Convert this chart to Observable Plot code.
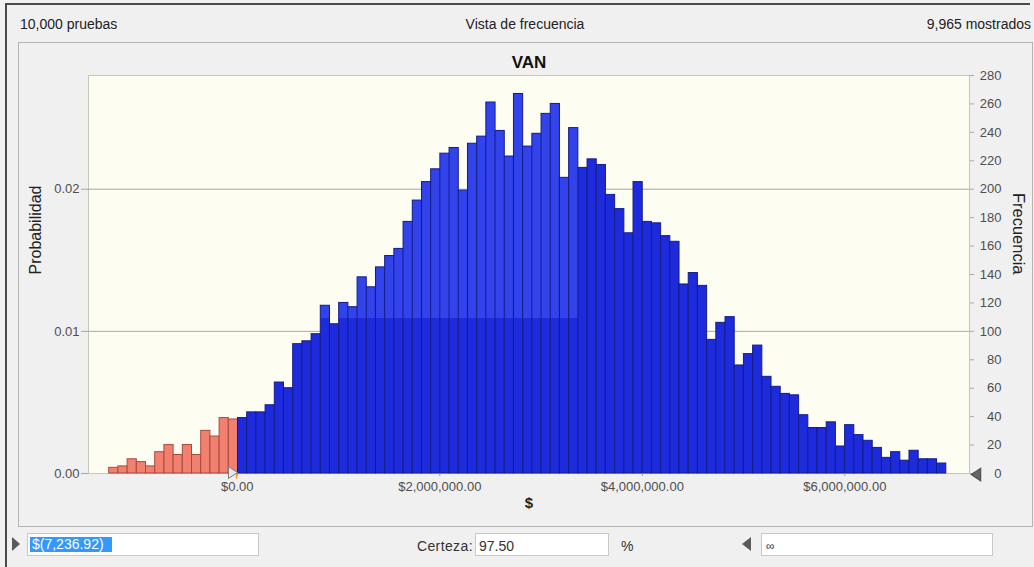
<!DOCTYPE html>
<html><head><meta charset="utf-8">
<script src="https://cdn.jsdelivr.net/npm/d3@7"></script>
<script src="https://cdn.jsdelivr.net/npm/@observablehq/plot@0.6"></script>
<style>
html,body{margin:0;padding:0;}
body{width:1034px;height:567px;background:#f0f0f0;position:relative;overflow:hidden;font-family:"Liberation Sans",Arial,sans-serif;color:#222;}
.abs{position:absolute;}
#frameTop{left:5px;top:3px;width:1025px;height:2px;background:#4a4a4a;}
#frameLeft{left:5px;top:3px;width:2px;height:564px;background:#4a4a4a;}
#panel{left:18px;top:42px;width:1015px;height:485px;border:1px solid #b4b4b4;box-sizing:border-box;}
.hdr{top:16px;font-size:14px;line-height:16px;color:#222;white-space:nowrap;}
#chart{left:0;top:0;}
.box{height:23px;border:1px solid #c8c8c8;background:#fff;box-sizing:border-box;}
.lbl{font-size:14px;line-height:16px;white-space:nowrap;color:#333;}
.triR{width:0;height:0;border-left:8px solid #5a5a5a;border-top:7px solid transparent;border-bottom:7px solid transparent;}
.triL{width:0;height:0;border-right:9px solid #5a5a5a;border-top:7px solid transparent;border-bottom:7px solid transparent;}
</style>
</head>
<body>
<div id="panel" class="abs"></div>
<div id="chart" class="abs"></div>
<div id="frameTop" class="abs"></div>
<div id="frameLeft" class="abs"></div>
<div class="abs hdr" id="hLeft" style="left:20px;"></div>
<div class="abs hdr" id="hMid" style="left:425px;width:200px;text-align:center;"></div>
<div class="abs hdr" id="hRight" style="right:3px;"></div>

<div class="abs triR" style="left:12px;top:537px;"></div>
<div class="abs box" style="left:27px;top:533px;width:232px;"></div>
<div class="abs lbl" id="lowVal" style="left:30px;top:537px;height:15px;line-height:15px;width:80px;padding-left:2px;background:#3399ff;color:#fff;"></div>

<div class="abs lbl" id="certLbl" style="left:400px;top:538px;width:73px;text-align:right;letter-spacing:0.4px;"></div>
<div class="abs box" style="left:475px;top:533px;width:134px;"></div>
<div class="abs lbl" id="certVal" style="left:479px;top:538px;"></div>
<div class="abs lbl" id="pct" style="left:621px;top:538px;"></div>

<div class="abs triL" style="left:742px;top:537px;"></div>
<div class="abs box" style="left:761px;top:533px;width:232px;"></div>
<div class="abs lbl" id="highVal" style="left:766px;top:538px;font-size:12px;"></div>

<script>
// ---- data ----
const headerLeft = "10,000 pruebas";
const headerMid = "Vista de frecuencia";
const headerRight = "9,965 mostrados";
const chartTitle = "VAN";
const xLabel = "$";
const leftLabel = "Probabilidad";
const rightLabel = "Frecuencia";
const certaintyLabel = "Certeza:";
const certaintyPct = "97.50";
const lowText = "$(7,236.92)";
const highText = "\u221E";

const trials = 10000;
const certaintyValue = -7236.92;
const binStart = -1265000;
const binWidth = 90850;
const counts = [
  4,5,10,8,5,15,20,13,20,13,30,26,39,38,
  39,43,43,48,64,60,
  91,93,98,118,105,120,117,138,131,145,153,158,177,192,205,214,225,229,199,232,237,261,241,223,267,230,
  239,253,260,208,243,215,221,217,196,186,169,205,177,176,167,163,133,141,132,94,106,110,76,84,90,68,
  61,56,55,41,32,32,36,19,34,27,23,18,11,15,9,16,10,10,7
];
const xTicks = [0, 2000000, 4000000, 6000000];
const probTicks = [0, 0.01, 0.02];
const freqTicks = [0,20,40,60,80,100,120,140,160,180,200,220,240,260,280];
const xDomain = [-1469600, 7231600];
const yDomain = [0, 280];
const highlightRange = [400000, 3400000];
const highlightFloor = 109;

// ---- header / controls text ----
document.getElementById("hLeft").textContent = headerLeft;
document.getElementById("hMid").textContent = headerMid;
document.getElementById("hRight").textContent = headerRight;
document.getElementById("lowVal").textContent = lowText;
document.getElementById("certLbl").textContent = certaintyLabel;
document.getElementById("certVal").textContent = certaintyPct;
document.getElementById("pct").textContent = "%";
document.getElementById("highVal").textContent = highText;

// ---- bins ----
const bins = counts.map((c, i) => ({x1: binStart + i * binWidth, x2: binStart + (i + 1) * binWidth, count: c}));
const redBins = bins.filter(b => b.x1 < certaintyValue);
const blueBins = bins.filter(b => b.x1 >= certaintyValue);
const lightBins = blueBins.filter(b => b.x1 >= highlightRange[0] && b.x2 <= highlightRange[1] && b.count > highlightFloor);

const triRight = {draw(ctx, size) { const s = Math.sqrt(size / Math.PI); ctx.moveTo(-0.75*s, -s); ctx.lineTo(0.75*s, 0); ctx.lineTo(-0.75*s, s); ctx.closePath(); }};
const triLeft = {draw(ctx, size) { const s = Math.sqrt(size / Math.PI); ctx.moveTo(0.75*s, -s); ctx.lineTo(-0.75*s, 0); ctx.lineTo(0.75*s, s); ctx.closePath(); }};

const fmtMoney = d => "$" + d3.format(",.2f")(d);

const chart = Plot.plot({
  width: 1034, height: 530,
  marginLeft: 88, marginRight: 65, marginTop: 75, marginBottom: 57,
  x: {domain: xDomain},
  y: {domain: yDomain},
  style: {background: "transparent", fontFamily: "'Liberation Sans', Arial, sans-serif", fontSize: "13px", color: "#4e4e4e"},
  marks: [
    Plot.frame({fill: "#fdfdf1", stroke: "#c6c6bc"}),
    Plot.ruleY(probTicks.filter(p => p > 0).map(p => p * trials), {stroke: "#a8a8a0"}),
    Plot.rectY(redBins, {x1: "x1", x2: "x2", y: "count", fill: "#f2806f", stroke: "#a84a40", strokeWidth: 1}),
    Plot.rectY(blueBins, {x1: "x1", x2: "x2", y: "count", fill: "#1e2bdc", stroke: "#141d86", strokeWidth: 1}),
    Plot.rectY(lightBins, {x1: "x1", x2: "x2", y1: highlightFloor, y2: "count", fill: "#3343ea", insetLeft: 0.6, insetRight: 0.6, insetTop: 0.6}),
    Plot.axisX({ticks: xTicks, tickFormat: fmtMoney, tickSize: 3, tickPadding: 5, label: null, stroke: "#999"}),
    Plot.axisY({anchor: "left", ticks: probTicks.map(p => p * trials), tickFormat: d => (d / trials).toFixed(2), tickSize: 7, tickPadding: 2, label: null, stroke: "#a8a8a0"}),
    Plot.axisY({anchor: "right", ticks: freqTicks, tickSize: 4, tickPadding: 28, textAnchor: "end", label: null, stroke: "#aaa"}),
    Plot.ruleX([certaintyValue], {y1: 0, y2: -4, stroke: "#f0a030", strokeWidth: 1.5}),
    Plot.dot([certaintyValue], {x: d => d, y: 0, symbol: triRight, r: 6, dx: -3.6, dy: -1, fill: "#e8e8e8", stroke: "#7a7a7a", strokeWidth: 1}),
    Plot.dot([xDomain[1]], {x: d => d, y: 0, symbol: triLeft, r: 6, dx: 6.5, dy: 1, fill: "#666", stroke: "#555"}),
    Plot.text([chartTitle], {frameAnchor: "top", dy: -20, text: d => d, fontSize: 17, fontWeight: "bold", fill: "#111"}),
    Plot.text([xLabel], {frameAnchor: "bottom", dy: 34, text: d => d, fontSize: 15, fontWeight: "bold", fill: "#222"}),
    Plot.text([leftLabel], {frameAnchor: "left", dx: -52.5, rotate: -90, text: d => d, fontSize: 16, fill: "#222"}),
    Plot.text([rightLabel], {frameAnchor: "right", dx: 48.5, rotate: 90, text: d => d, fontSize: 16.5, fill: "#222"})
  ]
});
document.getElementById("chart").appendChild(chart);
</script>
</body></html>
